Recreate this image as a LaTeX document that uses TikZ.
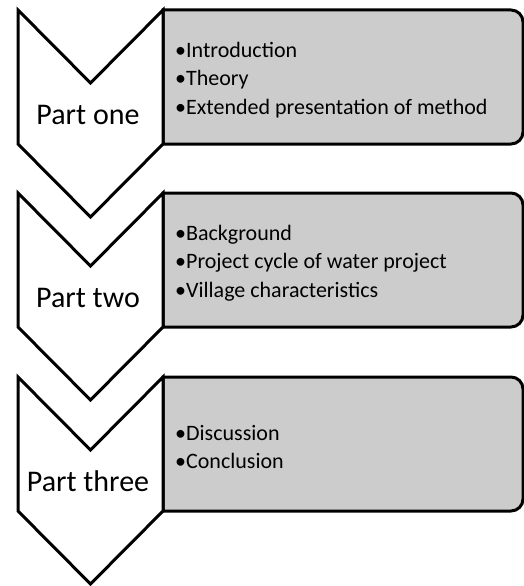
\documentclass[tikz,border=0pt]{standalone}
\usepackage{fontspec}
\setmainfont{Carlito}
\begin{document}
\begin{tikzpicture}[x=1pt,y=-1pt,
  chev/.style={draw=black,line width=3pt,fill=white,line join=miter},
  panel/.style={draw=black,line width=3pt,fill=gray!40},
  partlabel/.style={font=\fontsize{30}{36}\selectfont,inner sep=0pt,anchor=base},
  itemlist/.style={font=\fontsize{22}{28.5}\selectfont,inner sep=0pt,anchor=west,align=left}]
\useasboundingbox (0,0) rectangle (524,586);
\draw [panel] (163,144) -- (163,10) [rounded corners=12pt] -- (523,10) -- (523,144) [sharp corners] -- cycle;
\draw [chev] (18,10) -- (90.5,83) -- (163,10) -- (163,144) -- (90.5,217) -- (18,144) -- cycle;
\node [partlabel] (one) at (88,124) {Part one};
\node [itemlist] (oneitems) at (175,80) {•Introduction\\•Theory\\•Extended presentation of method};
\draw [panel] (163,327) -- (163,193) [rounded corners=12pt] -- (523,193) -- (523,327) [sharp corners] -- cycle;
\draw [chev] (18,193) -- (90.5,266) -- (163,193) -- (163,327) -- (90.5,400) -- (18,327) -- cycle;
\node [partlabel] (two) at (88,307) {Part two};
\node [itemlist] (twoitems) at (175,263) {•Background\\•Project cycle of water project\\•Village characteristics};
\draw [panel] (163,511) -- (163,377) [rounded corners=12pt] -- (523,377) -- (523,511) [sharp corners] -- cycle;
\draw [chev] (18,377) -- (90.5,450) -- (163,377) -- (163,511) -- (90.5,584) -- (18,511) -- cycle;
\node [partlabel] (three) at (88,491) {Part three};
\node [itemlist] (threeitems) at (175,447) {•Discussion\\•Conclusion};
\end{tikzpicture}
\end{document}
